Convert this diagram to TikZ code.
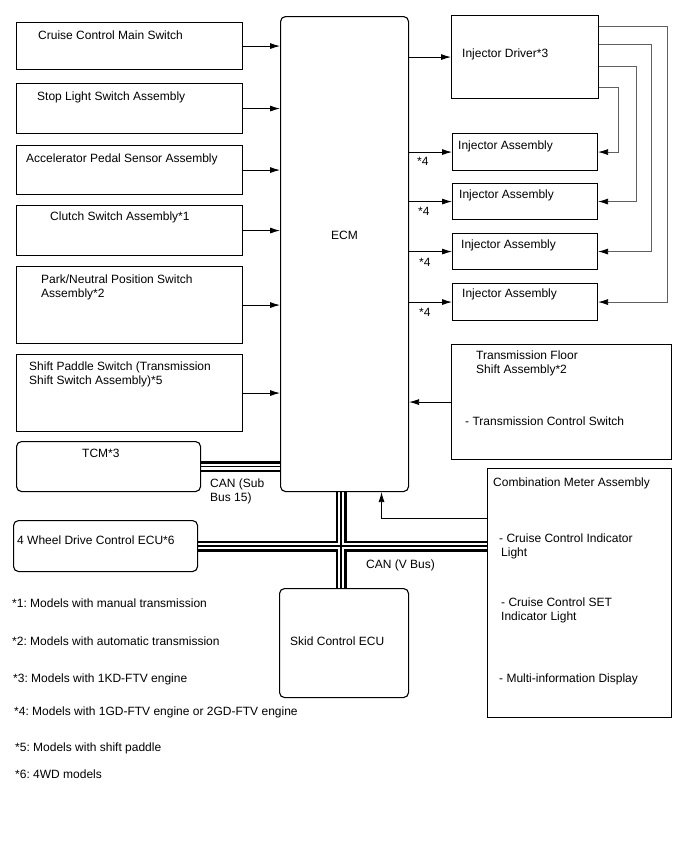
\documentclass[tikz,border=0pt]{standalone}
\usepackage{fontspec}
\setmainfont{Liberation Sans}
\usetikzlibrary{arrows.meta, calc, backgrounds}
\frenchspacing

\begin{document}
\begin{tikzpicture}[
  x=1pt, y=-1pt,
  font=\fontsize{12}{14}\selectfont,
  blk/.style={draw, line width=1.1pt, anchor=north west, inner sep=0pt},
  rblk/.style={blk, rounded corners=5pt},
  txt/.style={anchor=base west, inner sep=0pt, align=left},
  arrow/.style={-{Latex[length=10pt,width=6pt]}, line width=0.8pt},
  wire/.style={-{Latex[length=10pt,width=6pt,color=black]}, line width=0.8pt, draw=gray!75!black},
]
\useasboundingbox (0,0) rectangle (688,852);

% Left column: switches and sensors
\node[blk, minimum width=226, minimum height=47] (cruise) at (16,22)  {};
\node[blk, minimum width=226, minimum height=50] (stop)   at (16,83)  {};
\node[blk, minimum width=226, minimum height=49] (accel)  at (16,145) {};
\node[blk, minimum width=226, minimum height=50] (clutch) at (16,205) {};
\node[blk, minimum width=226, minimum height=77] (pnp)    at (16,266) {};
\node[blk, minimum width=226, minimum height=77] (paddle) at (16,354) {};
\node[rblk, minimum width=184, minimum height=50] (tcm)   at (16,441) {};
\node[rblk, minimum width=184, minimum height=51] (wd)    at (13,520) {};

\node[txt] at (38,39)  {Cruise Control Main Switch};
\node[txt] at (37,100) {Stop Light Switch Assembly};
\node[txt] at (26,162) {Accelerator Pedal Sensor Assembly};
\node[txt] at (50,220) {Clutch Switch Assembly*1};
\node[txt] at (41,283) {Park/Neutral Position Switch};
\node[txt] at (41,297) {Assembly*2};
\node[txt] at (29,370) {Shift Paddle Switch (Transmission};
\node[txt] at (29,384) {Shift Switch Assembly)*5};
\node[txt] at (82,457) {TCM*3};
\node[txt] at (17,544) {4 Wheel Drive Control ECU*6};

% ECM and skid control
\node[rblk, minimum width=128, minimum height=475] (ecm)  at (280,16)  {};
\node[rblk, minimum width=129, minimum height=109] (skid) at (279,588) {};
\node[txt] at (331,239) {ECM};
\node[txt] at (290,645) {Skid Control ECU};

% Right column: injectors
\node[blk, minimum width=147, minimum height=83] (drv)  at (451,15)  {};
\node[blk, minimum width=145, minimum height=37] (inj1) at (452,133) {};
\node[blk, minimum width=145, minimum height=36] (inj2) at (452,183) {};
\node[blk, minimum width=145, minimum height=36] (inj3) at (452,233) {};
\node[blk, minimum width=145, minimum height=37] (inj4) at (452,283) {};
\node[txt] at (462,57)  {Injector Driver*3};
\node[txt] at (458,149) {Injector Assembly};
\node[txt] at (459,198) {Injector Assembly};
\node[txt] at (461,248) {Injector Assembly};
\node[txt] at (462,297) {Injector Assembly};
\node[txt] at (417,165) {*4};
\node[txt] at (418,215) {*4};
\node[txt] at (419,266) {*4};
\node[txt] at (419,316) {*4};

% Transmission floor shift and combination meter
\node[blk, minimum width=220, minimum height=115] (tfs) at (451,344) {};
\node[blk, minimum width=184, minimum height=249] (cmb) at (487,468) {};
\node[txt] at (476,359) {Transmission Floor};
\node[txt] at (476,373) {Shift Assembly*2};
\node[txt] at (465,425) {- Transmission Control Switch};
\node[txt] at (493,486) {Combination Meter Assembly};
\node[txt] at (499,542) {- Cruise Control Indicator};
\node[txt] at (501,556) {Light};
\node[txt] at (501,606) {- Cruise Control SET};
\node[txt] at (501,620) {Indicator Light};
\node[txt] at (499,682) {- Multi-information Display};

% Bus labels
\node[txt] at (210,487) {CAN (Sub};
\node[txt] at (210,501) {Bus 15)};
\node[txt] at (366,568) {CAN (V Bus)};

% Footnotes
\node[txt] at (12,607) {*1: Models with manual transmission};
\node[txt] at (12,645) {*2: Models with automatic transmission};
\node[txt] at (13,682) {*3: Models with 1KD-FTV engine};
\node[txt] at (14,715) {*4: Models with 1GD-FTV engine or 2GD-FTV engine};
\node[txt] at (15,751) {*5: Models with shift paddle};
\node[txt] at (15,778) {*6: 4WD models};

% Inputs to ECM
\foreach \src in {cruise, stop, accel, clutch, pnp, paddle} {
  \draw[arrow] (\src.east) -- (ecm.west |- \src.east);
}
\draw[arrow] (tfs.west) -- (ecm.east |- tfs.west);
\draw[arrow] ([yshift=-50pt]cmb.north west) -| ([xshift=37pt]ecm.south);

% ECM to injectors
\foreach \dst in {drv, inj1, inj2, inj3, inj4} {
  \draw[arrow] (ecm.east |- \dst.west) -- (\dst.west);
}

% Injector driver outputs
\draw[wire] ([yshift=-11pt]drv.north east) -- ++(68,0) |- (inj4.east);
\draw[wire] ([yshift=-29pt]drv.north east) -- ++(52,0) |- (inj3.east);
\draw[wire] ([yshift=-51pt]drv.north east) -- ++(37,0) |- (inj2.east);
\draw[wire] ([yshift=-72pt]drv.north east) -- ++(19,0) |- (inj1.east);

% CAN buses
\coordinate (canx) at (341,0);
\begin{scope}[on background layer]
\foreach \w/\c in {11pt/black, 6pt/white, 1.2pt/black} {
  \draw[line width=\w, \c] (tcm.east) -- (ecm.west |- tcm.east);
  \draw[line width=\w, \c] (ecm.south -| canx) -- (skid.north -| canx);
  \draw[line width=\w, \c] (wd.east) -- (cmb.west |- wd.east);
}
\end{scope}
\end{tikzpicture}
\end{document}
